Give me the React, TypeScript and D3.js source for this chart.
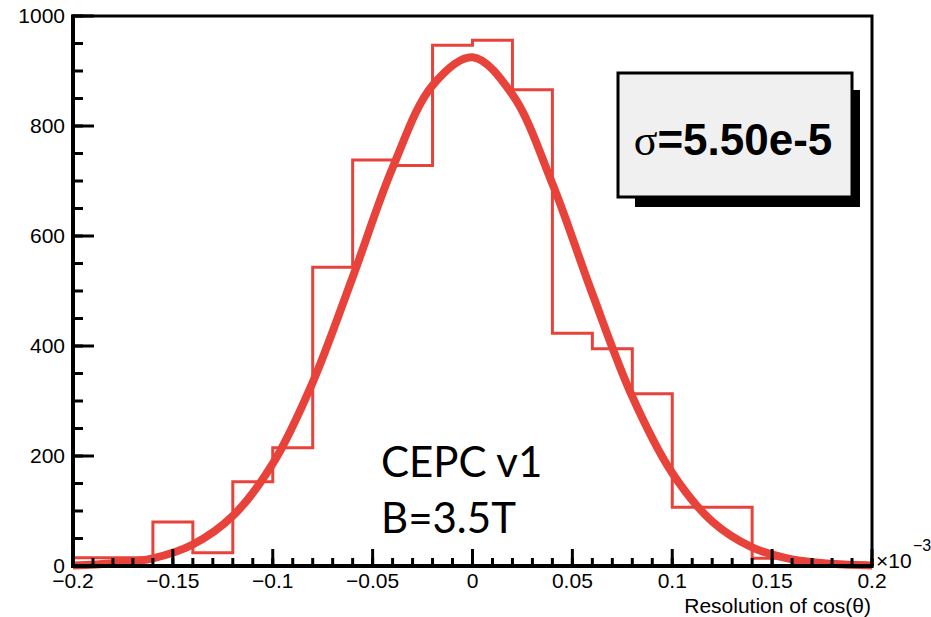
import React from "react";
import * as d3 from "d3";

// histogram: lower bin edges (x10^-3) and counts
const binLow = [-0.2, -0.18, -0.16, -0.14, -0.12, -0.1, -0.08, -0.06, -0.04, -0.02, 0, 0.02, 0.04, 0.06, 0.08, 0.1, 0.12, 0.14, 0.16, 0.18];
const binCounts = [15, 15, 80, 24, 153, 215, 543, 738, 728, 947, 956, 866, 423, 395, 313, 107, 107, 14, 5, 2];
const binWidth = 0.02;

// gaussian fit curve
const fitX = [-0.2, -0.18, -0.16, -0.14, -0.12, -0.1, -0.08, -0.06, -0.04, -0.02, 0, 0.02, 0.04, 0.06, 0.08, 0.1, 0.12, 0.14, 0.16, 0.18, 0.2];
const fitY = [1, 5, 14, 39, 91, 186, 334, 525, 724, 874, 925, 857, 695, 495, 308, 169, 81, 34, 12, 4, 1];

const xTicks = [-0.2, -0.15, -0.1, -0.05, 0, 0.05, 0.1, 0.15, 0.2];
const yTicks = [0, 200, 400, 600, 800, 1000];
const fitLabel = "=5.50e-5";

const RED = "#e8433a";

export default function App() {
    const left = 73, right = 872, top = 16, bottom = 566;

    const x = d3.scaleLinear().domain([-0.2, 0.2]).range([left, right]);
    const y = d3.scaleLinear().domain([0, 1000]).range([bottom, top]);

    // step outline of the histogram
    const pts: [number, number][] = [[binLow[0], 0]];
    binLow.forEach((lo, i) => {
        pts.push([lo, binCounts[i]]);
        pts.push([lo + binWidth, binCounts[i]]);
    });
    pts.push([binLow[binLow.length - 1] + binWidth, 0]);
    const histPath = d3.line<[number, number]>().x(d => x(d[0])).y(d => y(d[1]))(pts);

    const fitPath = d3.line<number>()
        .x((d, i) => x(fitX[i]))
        .y(d => y(d))
        .curve(d3.curveCatmullRom)(fitY);

    const xMinor = d3.range(-0.2, 0.2001, 0.01);
    const yMinor = d3.range(0, 1001, 50);
    const fmt = (v: number) => (v === 0 ? "0" : d3.format("")(+v.toFixed(2)));

    return (
        <svg width={931} height={617} style={{ position: "absolute", left: 0, top: 0, background: "#fff" }}
            fontFamily="'Liberation Sans', Arial, sans-serif">
            {/* histogram + fit */}
            <path d={histPath || ""} fill="none" stroke={RED} strokeWidth={3} />
            <path d={fitPath || ""} fill="none" stroke={RED} strokeWidth={8} strokeLinecap="butt" />

            {/* frame */}
            <rect x={left} y={top} width={right - left} height={bottom - top} fill="none" stroke="#000" strokeWidth={3} />
            <line x1={left} x2={left} y1={top - 1.5} y2={bottom + 2} stroke="#000" strokeWidth={4} />
            <line x1={left - 2} x2={right + 1.5} y1={bottom} y2={bottom} stroke="#000" strokeWidth={4} />

            {/* x ticks, drawn inward */}
            {xMinor.map((v, i) => (
                <line key={"xm" + i} x1={x(v)} x2={x(v)} y1={bottom} y2={bottom - 8} stroke="#000" strokeWidth={3} />
            ))}
            {xTicks.map(v => (
                <g key={"x" + v}>
                    <line x1={x(v)} x2={x(v)} y1={bottom} y2={bottom - 17} stroke="#000" strokeWidth={3} />
                    <text x={x(v)} y={588} fontSize={21} textAnchor="middle">{fmt(v)}</text>
                </g>
            ))}

            {/* y ticks */}
            {yMinor.map(v => (
                <line key={"ym" + v} x1={left} x2={left + 10} y1={y(v)} y2={y(v)} stroke="#000" strokeWidth={3} />
            ))}
            {yTicks.map(v => (
                <g key={"y" + v}>
                    <line x1={left} x2={left + 21} y1={y(v)} y2={y(v)} stroke="#000" strokeWidth={3} />
                    <text x={65} y={y(v) + 7} fontSize={21} textAnchor="end">{v}</text>
                </g>
            ))}

            {/* exponent */}
            <text x={876} y={568} fontSize={21}>×10</text>
            <text x={913} y={551} fontSize={16}>−3</text>

            <text x={871} y={613} fontSize={21} textAnchor="end">Resolution of cos(θ)</text>

            {/* fit box */}
            <rect x={635} y={90} width={225} height={117} fill="#000" />
            <rect x={618} y={73} width={234} height={124} fill="#f0f0f0" stroke="#000" strokeWidth={3} />
            <text x={733} y={155} fontSize={44} fontWeight="bold" textAnchor="middle">
                <tspan fontFamily="'Liberation Serif', 'DejaVu Serif', serif" fontWeight="normal">σ</tspan>{fitLabel}
            </text>

            <text x={381} y={477} fontSize={42} fontFamily="Lato, 'Open Sans', sans-serif">CEPC v1</text>
            <text x={381} y={533} fontSize={42} fontFamily="Lato, 'Open Sans', sans-serif">B=3.5T</text>
        </svg>
    );
}
